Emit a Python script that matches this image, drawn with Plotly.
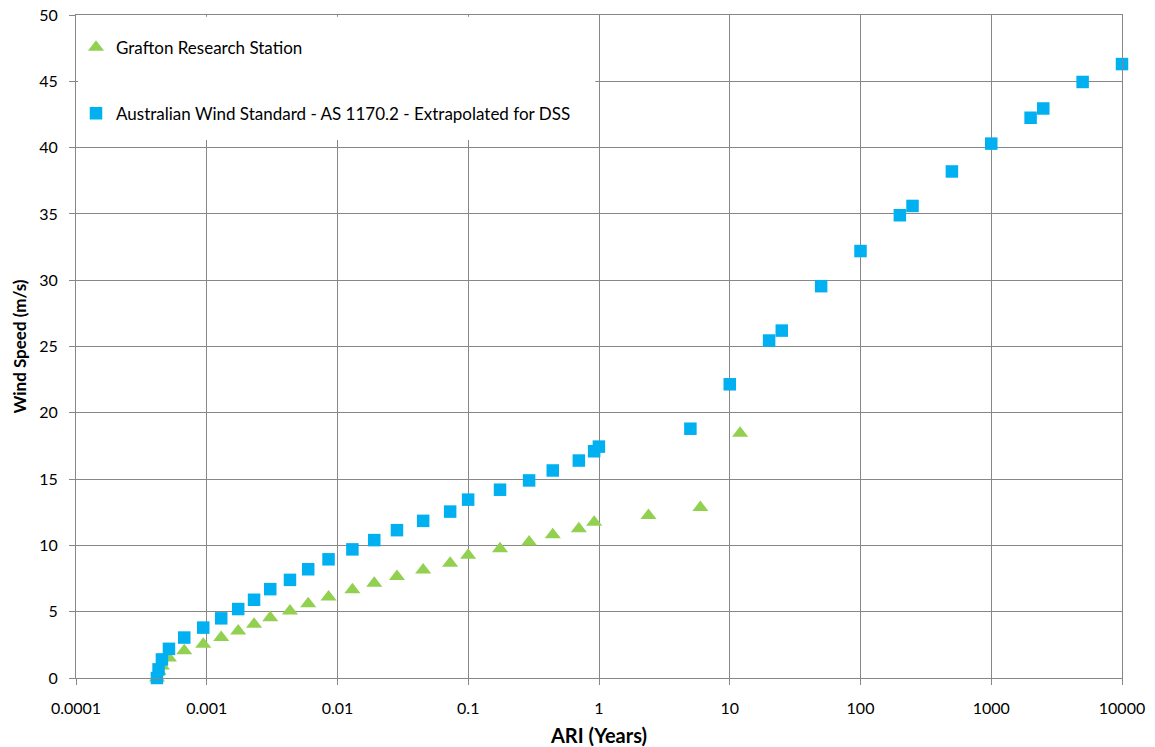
import plotly.graph_objects as go

# ---- data ----
ari_low = [4.16e-4, 4.28e-4, 4.54e-4, 5.14e-4, 6.73e-4, 9.4e-4, 1.29e-3, 1.74e-3,
           2.30e-3, 3.06e-3, 4.33e-3, 5.97e-3, 8.54e-3, 0.0130, 0.0191, 0.0285,
           0.0452, 0.0727, 0.0998, 0.175, 0.292, 0.443, 0.701, 0.918]

grafton_ari = ari_low + [2.39, 5.96, 12.0]
grafton_speed = [0.0, 0.5, 0.9, 1.5, 2.05, 2.55, 3.05, 3.55, 4.05, 4.55, 5.05, 5.6,
                 6.1, 6.65, 7.15, 7.65, 8.15, 8.65, 9.25, 9.75, 10.25, 10.8, 11.25,
                 11.75, 12.25, 12.85, 18.45]

as1170_ari = ari_low + [0.998, 5, 10, 20, 25, 50, 100, 200, 250, 500, 1000, 2000,
                        2500, 5000, 10000]
as1170_speed = [0.0, 0.65, 1.4, 2.2, 3.05, 3.8, 4.5, 5.2, 5.9, 6.7, 7.4, 8.2, 8.95,
                9.7, 10.4, 11.15, 11.85, 12.55, 13.45, 14.2, 14.9, 15.65, 16.4, 17.1,
                17.45, 18.8, 22.15, 25.45, 26.2, 29.55, 32.2, 34.9, 35.6, 38.2, 40.3,
                42.25, 42.95, 44.95, 46.3]

x_tickvals = [1e-4, 1e-3, 1e-2, 1e-1, 1, 10, 100, 1000, 10000]
x_ticktext = ["0.0001", "0.001", "0.01", "0.1", "1", "10", "100", "1000", "10000"]
y_tickvals = list(range(0, 51, 5))

FONT = "Lato"
GRID = "#878787"

fig = go.Figure()
fig.add_trace(go.Scatter(
    x=grafton_ari, y=grafton_speed, mode="markers",
    name="Grafton Research Station", legendgroup="g1", cliponaxis=False,
    marker=dict(symbol="triangle-up", size=14, color="#92D050"),
))
fig.add_trace(go.Scatter(
    x=as1170_ari, y=as1170_speed, mode="markers",
    name="Australian Wind Standard - AS 1170.2 - Extrapolated for DSS",
    legendgroup="g2", cliponaxis=False,
    marker=dict(symbol="square", size=12.5, color="#00B0F0"),
))

fig.add_shape(type="rect", xref="paper", yref="paper",
              x0=0.002, x1=0.4965, y0=0.8115, y1=0.9975,
              fillcolor="white", line=dict(width=0), layer="above")

fig.update_layout(
    width=1155, height=747,
    margin=dict(l=76, r=33, t=15, b=69, autoexpand=False),
    paper_bgcolor="white", plot_bgcolor="white",
    font=dict(family=FONT, size=16, color="#000000"),
    showlegend=True,
    legend=dict(
        x=0.0, y=0.978, xanchor="left", yanchor="top",
        bgcolor="rgba(255,255,255,0)", borderwidth=0,
        traceorder="grouped", tracegroupgap=41,
        font=dict(family=FONT, size=17, color="#000000"),
        itemwidth=30,
    ),
    xaxis=dict(
        type="log", range=[-4, 4], automargin=False,
        tickvals=x_tickvals, ticktext=x_ticktext,
        showgrid=True, gridcolor=GRID, gridwidth=1,
        showline=True, linecolor=GRID, linewidth=1, mirror=True,
        ticks="outside", ticklen=6, tickcolor=GRID,
        ticklabelstandoff=10,
        tickfont=dict(family=FONT, size=16, color="#000000"),
        title=dict(text="<b>ARI (Years)</b>", font=dict(family=FONT, size=20), standoff=12),
        zeroline=False,
    ),
    yaxis=dict(
        range=[0, 50], tickvals=y_tickvals, automargin=False,
        showgrid=True, gridcolor=GRID, gridwidth=1,
        showline=True, linecolor=GRID, linewidth=1, mirror=True,
        ticks="outside", ticklen=6, tickcolor=GRID,
        ticklabelstandoff=8,
        tickfont=dict(family=FONT, size=16, color="#000000"),
        title=dict(text="<b>Wind Speed (m/s)</b>", font=dict(family=FONT, size=17), standoff=8),
        zeroline=False,
    ),
)

fig.write_html("out.html", config={"displayModeBar": False},
               post_script="document.body.style.margin='0';")
